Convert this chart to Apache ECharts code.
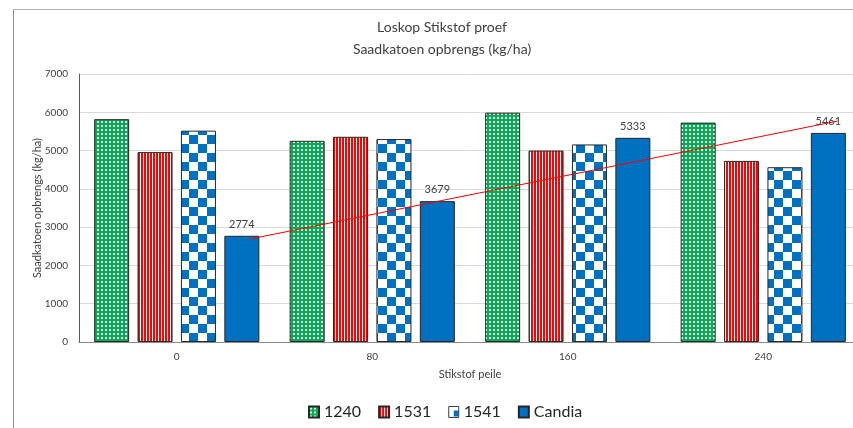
<!DOCTYPE html>
<html>
<head>
<meta charset="utf-8">
<script src="https://cdn.jsdelivr.net/npm/echarts@6/dist/echarts.min.js"></script>
<style>
    html, body { margin: 0; padding: 0; background: #fff; }
    #chart { width: 853px; height: 428px; }
</style>
</head>
<body>
<div id="chart"></div>
<script>
    // data
    var categories = ['0', '80', '160', '240'];
    var seriesNames = ['1240', '1531', '1541', 'Candia'];
    var v1240 = [5820, 5255, 5990, 5730];
    var v1531 = [4960, 5360, 5000, 4730];
    var v1541 = [5520, 5300, 5160, 4565];
    var vCandia = [2774, 3679, 5333, 5461];
    // trend line end points (x in category units from the left of the plot)
    var trendX = [0.875, 3.88];
    var trendY = [2690, 5770];
    var yTicks = [0, 1000, 2000, 3000, 4000, 5000, 6000, 7000];

    var FONT = 'Lato, "Noto Sans", sans-serif';

    // fill patterns
    function tile(w, h, draw) {
        var c = document.createElement('canvas');
        c.width = w;
        c.height = h;
        draw(c.getContext('2d'));
        return c;
    }
    var dots = tile(4, 4, function (g) {
        g.fillStyle = '#00b050';
        g.fillRect(0, 0, 4, 4);
        g.fillStyle = '#ffffff';
        g.fillRect(1, 1, 2, 2);
    });
    var stripes = tile(3, 4, function (g) {
        g.fillStyle = '#ffffff';
        g.fillRect(0, 0, 3, 4);
        g.fillStyle = '#ff0000';
        g.fillRect(0, 0, 2, 4);
    });
    var checks = tile(18, 18, function (g) {
        g.fillStyle = '#ffffff';
        g.fillRect(0, 0, 18, 18);
        g.fillStyle = '#0070c0';
        g.fillRect(0, 0, 9, 9);
        g.fillRect(9, 9, 9, 9);
    });
    // small version for the legend swatch
    var checksSmall = tile(10, 10, function (g) {
        g.fillStyle = '#ffffff';
        g.fillRect(0, 0, 10, 10);
        g.fillStyle = '#0070c0';
        g.fillRect(5, 4, 5, 6);
    });

    var fills = [
        { image: dots, repeat: 'repeat' },
        { image: stripes, repeat: 'repeat' },
        { image: checks, repeat: 'repeat' },
        '#0070c0'
    ];
    var values = [v1240, v1531, v1541, vCandia];

    var series = seriesNames.map(function (name, i) {
        return {
            name: name,
            type: 'bar',
            barWidth: 35,
            barGap: '24%',
            data: values[i],
            itemStyle: { color: fills[i], borderColor: '#262626', borderWidth: 1 },
            label: {
                show: name === 'Candia',
                position: 'top',
                distance: 6,
                fontFamily: FONT,
                fontSize: 11,
                color: '#404040'
            }
        };
    });
    series.push({
        name: 'trend',
        type: 'line',
        xAxisIndex: 1,
        data: trendX.map(function (x, i) { return [x, trendY[i]]; }),
        showSymbol: false,
        silent: true,
        lineStyle: { color: '#ff0000', width: 1 },
        z: 5
    });

    var legendData = seriesNames.map(function (name) {
        var item = { name: name };
        if (name === '1541') {
            item.itemStyle = { color: { image: checksSmall, repeat: 'repeat' }, borderColor: '#404040', borderWidth: 1 };
        }
        return item;
    });

    var chart = echarts.init(document.getElementById('chart'), null, { renderer: 'canvas' });
    chart.setOption({
        animation: false,
        backgroundColor: '#fff',
        textStyle: { fontFamily: FONT },
        graphic: [{
            type: 'line',
            shape: { x1: 13.5, y1: 9.5, x2: 13.5, y2: 428 },
            style: { stroke: '#8c8c8c', lineWidth: 1 },
            silent: true
        }, {
            type: 'line',
            shape: { x1: 13.5, y1: 9.5, x2: 853, y2: 9.5 },
            style: { stroke: '#b0b0b0', lineWidth: 1 },
            silent: true
        }],
        title: {
            text: 'Loskop Stikstof proef\nSaadkatoen opbrengs (kg/ha)',
            left: 437,
            top: 11,
            textAlign: 'center',
            textStyle: {
                fontFamily: FONT,
                fontSize: 14,
                fontWeight: 'normal',
                color: '#404040',
                lineHeight: 22
            }
        },
        legend: {
            data: legendData,
            left: 303,
            top: 399,
            itemWidth: 10,
            itemHeight: 11,
            itemGap: 17,
            icon: 'rect',
            textStyle: { fontFamily: FONT, fontSize: 16, color: '#262626' }
        },
        grid: { left: 79, top: 74, width: 782, height: 268, outerBoundsMode: 'none' },
        xAxis: [{
            type: 'category',
            data: categories,
            name: 'Stikstof peile',
            nameLocation: 'middle',
            nameGap: 27,
            nameMoveOverlap: false,
            nameTextStyle: { fontFamily: FONT, fontSize: 11, color: '#404040' },
            axisLine: { lineStyle: { color: '#8c8c8c' } },
            axisTick: { show: false },
            axisLabel: { fontFamily: FONT, fontSize: 10, color: '#404040', margin: 10 }
        }, {
            type: 'value',
            min: 0,
            max: 4,
            show: false
        }],
        yAxis: {
            type: 'value',
            min: yTicks[0],
            max: yTicks[yTicks.length - 1],
            interval: 1000,
            name: 'Saadkatoen opbrengs (kg/ha)',
            nameLocation: 'middle',
            nameGap: 36,
            nameMoveOverlap: false,
            nameTextStyle: { fontFamily: FONT, fontSize: 11, color: '#404040' },
            axisLine: { show: true, lineStyle: { color: '#595959' } },
            axisTick: { show: false },
            axisLabel: {
                fontFamily: FONT, fontSize: 10, color: '#404040', margin: 11,
                formatter: function (v) { return String(v); }
            },
            splitLine: { lineStyle: { color: '#d9d9d9' } }
        },
        series: series
    });
</script>
</body>
</html>
